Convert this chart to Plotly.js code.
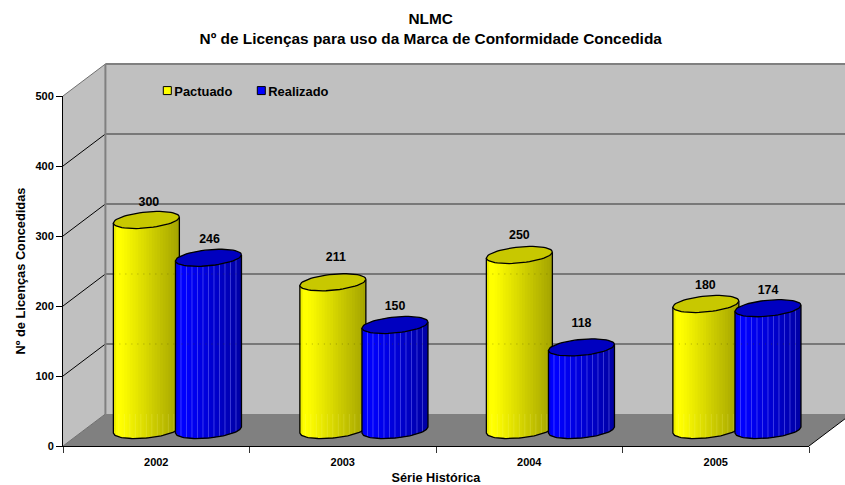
<!DOCTYPE html>
<html><head><meta charset="utf-8">
<script src="https://cdn.plot.ly/plotly-3.0.0.min.js"></script>
<style>html,body{margin:0;padding:0;background:#fff}</style>
</head><body><div id="chart" style="width:845px;height:485px"></div>
<script>
const categories = ['2002','2003','2004','2005'];
const pactuado = [300,211,250,180];
const realizado = [246,150,118,174];
const yTicks = [0,100,200,300,400,500];

const F = 'Liberation Sans, Arial, sans-serif';
const pxX = 186.5, pxY = 0.7;
const dX = 42.4/pxX, dY = 32/pxY;            // wall depth
const a = 33/pxX, b = 8/pxY, k = 3/pxY;      // cylinder ellipse
const lift = 16/pxY;                         // floor position of cylinder axis
const N = 24;
const prof = u => u < 0.12 ? 1 : 1 - 0.36*(u-0.12)/0.88;
const edge = u => (u < 0.04 ? 0.93 : 1);
const series = [
  {name:'Pactuado', vals:pactuado, off:0.447, col:'#FFFF00', cap:'#C8C800',
   strip:f=>`rgb(${Math.round(255*f)},${Math.round(255*f)},0)`, stripe:'rgba(255,255,150,0.18)', stripeFloor:true,
   labelGap:[17.5,24,19,18], labelNudge:[2.5,3,0,-0.5]},
  {name:'Realizado', vals:realizado, off:0.780, col:'#0000FF', cap:'#0000C0',
   strip:f=>`rgb(0,0,${Math.round(255*f)})`, stripe:'rgba(130,130,255,0.45)', stripeFloor:false,
   labelGap:[18,18.5,23,17], labelNudge:[1,0,0,0]}
];

const traces = [];
series.forEach(s => traces.push({type:'scatter',mode:'markers',name:s.name,x:[null],y:[null],
  marker:{symbol:'square',size:8,color:s.col,line:{color:'#000',width:1}},hoverinfo:'skip'}));

const lowArc = (c,u) => lift + k*u - b*Math.sqrt(Math.max(0,1-u*u));
series.forEach(s => {
  for (let i=0;i<N;i++){
    const u0=-1+2*i/N, u1=Math.min(1,-1+2*(i+1.4)/N), xs=[], ys=[];
    s.vals.forEach((v,c)=>{
      const cx=c+s.off;
      xs.push(cx+a*u0,cx+a*u1,cx+a*u1,cx+a*u0,cx+a*u0,null);
      ys.push(v+lift+k*u0,v+lift+k*u1,lowArc(c,u1),lowArc(c,u0),v+lift+k*u0,null);
    });
    const f=prof((i+0.5)/N)*edge((i+0.5)/N);
    traces.push({type:'scatter',mode:'none',x:xs,y:ys,fill:'toself',fillcolor:s.strip(f),showlegend:false,hoverinfo:'skip',cliponaxis:false});
  }
  const sx=[], sy=[];
  s.vals.forEach((v,c)=>{
    const cx=c+s.off;
    for (let j=1;j<12;j++){
      const u=-1+2*j/12;
      const top=s.stripeFloor? dY : v+lift+k*u;
      sx.push(cx+a*u,cx+a*u,null); sy.push(top,lowArc(c,u)+0.5,null);
    }
  });
  traces.push({type:'scatter',mode:'lines',x:sx,y:sy,line:{color:s.stripe,width:1},showlegend:false,hoverinfo:'skip',cliponaxis:false});
  const gx=[], gy=[];
  s.vals.forEach((v,c)=>{
    const cx=c+s.off;
    yTicks.slice(1,5).forEach(g=>{
      if (g+dY < v+lift-b){ gx.push(cx-a,cx+a,null); gy.push(g+dY,g+dY,null); }
    });
  });
  traces.push({type:'scatter',mode:'lines',x:gx,y:gy,line:{color:'rgba(70,70,0,0.4)',width:1,dash:'1px 5px'},showlegend:false,hoverinfo:'skip',cliponaxis:false});
  const ox=[], oy=[];
  s.vals.forEach((v,c)=>{
    const cx=c+s.off;
    ox.push(cx-a); oy.push(v+lift-k);
    for(let j=0;j<=40;j++){const u=-1+2*j/40; ox.push(cx+a*u); oy.push(lowArc(c,u));}
    ox.push(cx+a,null); oy.push(v+lift+k,null);
  });
  traces.push({type:'scatter',mode:'lines',x:ox,y:oy,line:{color:'#000',width:1.3},showlegend:false,hoverinfo:'skip',cliponaxis:false});
  const cxs=[], cys=[];
  s.vals.forEach((v,c)=>{
    const cx=c+s.off;
    for(let j=0;j<=60;j++){const t=2*Math.PI*j/60; cxs.push(cx+a*Math.cos(t)); cys.push(v+lift+k*Math.cos(t)+b*Math.sin(t));}
    cxs.push(null); cys.push(null);
  });
  traces.push({type:'scatter',mode:'lines',x:cxs,y:cys,fill:'toself',fillcolor:s.cap,line:{color:'#000',width:1.3},showlegend:false,hoverinfo:'skip',cliponaxis:false});
});
series.forEach(s => traces.push({type:'scatter',mode:'text',
  x:s.vals.map((v,c)=>c+s.off+s.labelNudge[c]/pxX), y:s.vals.map((v,c)=>v+lift+s.labelGap[c]/pxY),
  text:s.vals.map(String), textposition:'middle center',
  textfont:{family:F,size:12.4,color:'#000',weight:700}, showlegend:false, hoverinfo:'skip', cliponaxis:false}));

// walls, floor and gridlines sit in the depth behind the axes: paper coordinates from axis units
const xp = x => x/4, yp = v => v/500;
const P = pts => 'M'+pts.map(p=>xp(p[0])+','+yp(p[1])).join('L')+'Z';
const shapes = [];
const topV = 500+dY, rightV = 4+dX;
const pathShape = (pts,fill) => ({type:'path',layer:'below',xref:'paper',yref:'paper',path:P(pts),fillcolor:fill,line:{width:0}});
const lineShape = (x0,y0,x1,y1,color,width) => ({type:'line',layer:'below',xref:'paper',yref:'paper',x0:xp(x0),x1:xp(x1),y0:yp(y0),y1:yp(y1),line:{color,width}});
shapes.push(pathShape([[dX,dY],[rightV,dY],[rightV,topV],[dX,topV]],'#C0C0C0'));
shapes.push(pathShape([[0,0],[dX,dY],[dX,topV],[0,500]],'#C0C0C0'));
shapes.push(pathShape([[0,0],[4,0],[rightV,dY],[dX,dY]],'#808080'));
yTicks.forEach(g=>{
  const top=g===500, zero=g===0;
  if(!zero) shapes.push(lineShape(dX,g+dY,rightV,g+dY,top?'#808080':'#303030',top?2:1.2));
  shapes.push(lineShape(0,g,dX,g+dY,top||zero?'#707070':'#000',1));
});
shapes.push(lineShape(dX,dY,dX,topV,'#808080',2));
shapes.push(lineShape(4,0,rightV,dY,'#000',1));

const layout = {
  width:845,height:485,paper_bgcolor:'#fff',plot_bgcolor:'rgba(0,0,0,0)',showlegend:true,
  margin:{l:63,r:36,t:96,b:39,pad:0},
  font:{family:F,color:'#000'},
  title:{text:'NLMC<br>Nº de Licenças para uso da Marca de Conformidade Concedida',
    font:{family:F,size:15.4,weight:700,color:'#000'},x:430.7/845,xanchor:'center',xref:'container',y:0.951,yref:'container',yanchor:'top'},
  xaxis:{range:[0,4],tickmode:'array',tickvals:categories.map((c,i)=>i+0.5),ticktext:categories,
    ticks:'outside',ticklen:6,tickcolor:'rgba(0,0,0,0)',showgrid:false,zeroline:false,showline:true,linecolor:'#000',linewidth:1,
    tickfont:{family:F,size:11,weight:700,color:'#000'},
    minor:{tickmode:'array',tickvals:[0,1,2,3,4],ticks:'outside',ticklen:6,tickwidth:1,tickcolor:'#333',showgrid:false},
    title:{text:'Série Histórica',font:{family:F,size:12.7,weight:700,color:'#000'},standoff:6}},
  yaxis:{range:[0,500],tickmode:'array',tickvals:yTicks,ticks:'outside',ticklen:6,tickwidth:1,tickcolor:'#000',
    showgrid:false,zeroline:false,showline:true,linecolor:'#000',linewidth:1,tickfont:{family:F,size:11,weight:700,color:'#000'},
    title:{text:'Nº de Licenças Concedidas',font:{family:F,size:12.8,weight:700,color:'#000'},standoff:6}},
  legend:{orientation:'h',xref:'paper',yref:'paper',x:(134.3-63)/746,y:(446-90.7)/350,xanchor:'left',yanchor:'middle',
    bgcolor:'rgba(0,0,0,0)',borderwidth:0,entrywidthmode:'pixels',entrywidth:49,tracegroupgap:0,
    font:{family:F,size:12.9,weight:700,color:'#000'}},
  shapes:shapes
};
Plotly.newPlot('chart',traces,layout,{displayModeBar:false,staticPlot:true}).then(gd=>{
  gd.querySelectorAll('.legend .legendsymbols').forEach(n=>n.setAttribute('transform','translate(13,0)'));
  const box=gd.querySelector('.legend .scrollbox');
  if(box){box.removeAttribute('clip-path');box.style.clipPath='none';}
});
</script></body></html>
